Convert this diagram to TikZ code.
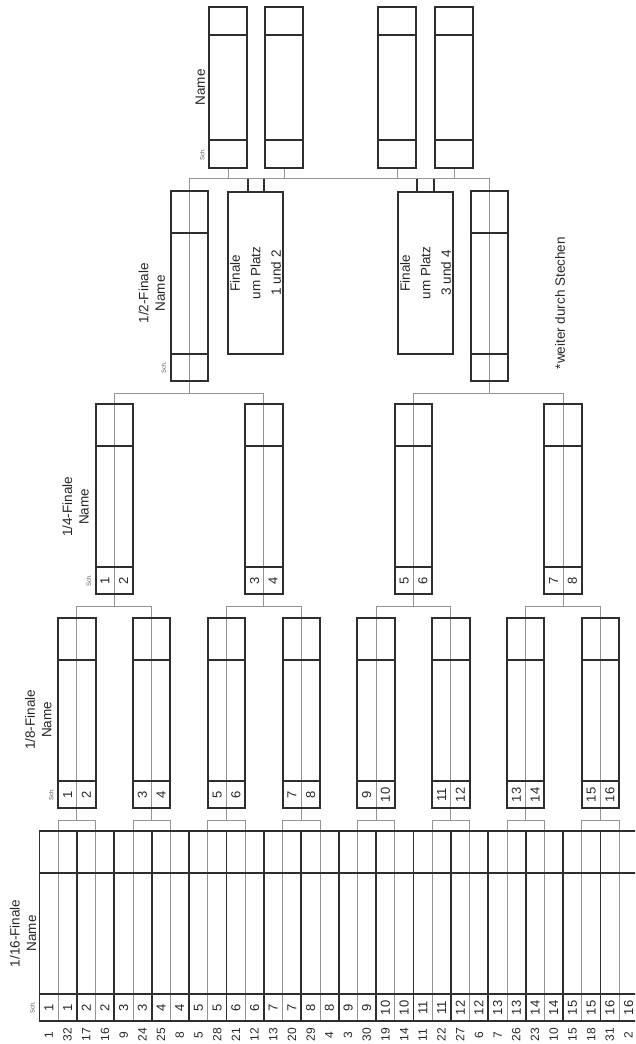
\documentclass[tikz,border=0pt]{standalone}
\usepackage{fontspec}
\setmainfont{Liberation Sans}
\usetikzlibrary{calc,backgrounds}
\colorlet{framegray}{black!82}
\colorlet{wiregray}{black!42}
\tikzset{
  slot/.style={draw=framegray, line width=1.9pt, minimum width=37.4pt,
    inner sep=0pt, anchor=north},
  roundbox/.style={slot, minimum height=190pt},
  winnerbox/.style={slot, minimum height=161pt},
  playoffbox/.style={slot, minimum width=55pt, minimum height=162pt},
  cellrule/.style={draw=framegray, line width=1.9pt},
  wire/.style={draw=wiregray, line width=0.9pt},
  cellnum/.style={font=\fontsize{13}{13}\selectfont, rotate=90, inner sep=0pt,
    text=black!85},
  seednum/.style={cellnum, font=\fontsize{12}{12}\selectfont},
  schtag/.style={font=\fontsize{6}{6}\selectfont, rotate=90, inner sep=0pt,
    text=black!65},
  roundhead/.style={font=\fontsize{13.5}{16.5}\selectfont, rotate=90,
    align=center, inner sep=0pt, text=black!85},
  playtext/.style={roundhead, font=\fontsize{13.5}{20.5}\selectfont},
}

\begin{document}
\begin{tikzpicture}[x=1pt,y=-1pt]
\useasboundingbox (0,0) rectangle (635,1044);
\clip (0,0) rectangle (635,1044);
% one box per pairing; the sheet is turned, rounds run upwards
\foreach \i in {1,...,16}
  \node[roundbox] (p\i) at ({39.5+(\i-0.5)*37.4},830) {};
\foreach \i in {1,...,8}
  \node[roundbox] (e\i) at ({39.5+(2*\i-1)*37.4},617) {};
\foreach \i in {1,...,4}
  \node[roundbox] (v\i) at ({39.5+(4*\i-2)*37.4},403) {};
\node[roundbox] (h1) at (189.5,190) {};
\node[roundbox] (h2) at (489.5,190) {};
\node[winnerbox] (w1) at (228,6) {};
\node[winnerbox] (w2) at (284,6) {};
\node[winnerbox] (w3) at (397,6) {};
\node[winnerbox] (w4) at (454,6) {};
\node[playoffbox] (f1) at (255.5,191) {};
\node[playoffbox] (f2) at (425.5,191) {};
% cells: Sch. strip, name strip, top strip
\foreach \kind/\cnt in {p/16,e/8,v/4,h/2}
  \foreach \i in {1,...,\cnt}{
    \draw[cellrule] ([yshift=-43pt]\kind\i.north west) -- ([yshift=-43pt]\kind\i.north east)
      ([yshift=28pt]\kind\i.south west) -- ([yshift=28pt]\kind\i.south east);
    \begin{scope}[on background layer]
      \draw[wire] (\kind\i.north) -- (\kind\i.south);
    \end{scope}}
\foreach \i in {1,...,4}
  \draw[cellrule] ([yshift=-29pt]w\i.north west) -- ([yshift=-29pt]w\i.north east)
    ([yshift=29pt]w\i.south west) -- ([yshift=29pt]w\i.south east);
\foreach \pa/\ch/\cnt in {e/p/8,v/e/4,h/v/2}
  \foreach \i in {1,...,\cnt}{
    \pgfmathtruncatemacro\lo{2*\i-1}
    \pgfmathtruncatemacro\hi{2*\i}
    \draw[wire] (\ch\lo.north) |- ([yshift=-11.5pt]\pa\i.south) -| (\ch\hi.north)
      (\pa\i.south) -- ([yshift=-11.5pt]\pa\i.south);}
\coordinate (bar) at ([yshift=11.5pt]h1.north);
\draw[wire] (h1.north) -- (bar) -| (h2.north);
\foreach \i in {1,...,4}
  \draw[wire] (w\i.south) -- (w\i.south |- bar);
\draw[cellrule] (f1.north -| w1.east) -- (bar -| w1.east)
  (f1.north -| w2.west) -- (bar -| w2.west)
  (f2.north -| w3.east) -- (bar -| w3.east)
  (f2.north -| w4.west) -- (bar -| w4.west);
% numbers
\foreach \s/\t [count=\i] in {1/32,17/16,9/24,25/8,5/28,21/12,13/20,29/4,
    3/30,19/14,11/22,27/6,7/26,23/10,15/18,31/2}{
  \node[cellnum] (pl\i) at ([xshift=-9.35pt,yshift=14pt]p\i.south) {\i};
  \node[cellnum] (pr\i) at ([xshift=9.35pt,yshift=14pt]p\i.south) {\i};
  \node[seednum] (sl\i) at ([xshift=-9.35pt,yshift=-13pt]p\i.south) {\s};
  \node[seednum] (sr\i) at ([xshift=9.35pt,yshift=-13pt]p\i.south) {\t};}
\foreach \pa/\cnt in {e/8,v/4}
  \foreach \i in {1,...,\cnt}{
    \pgfmathtruncatemacro\lo{2*\i-1}
    \pgfmathtruncatemacro\hi{2*\i}
    \node[cellnum] (\pa l\i) at ([xshift=-9.35pt,yshift=14pt]\pa\i.south) {\lo};
    \node[cellnum] (\pa r\i) at ([xshift=9.35pt,yshift=14pt]\pa\i.south) {\hi};}
% round titles
\node[roundhead] (t16) at ([xshift=-15.5pt,yshift=-7.5pt]p1.west) {1/16-Finale\\Name};
\node[roundhead] (t8) at ([xshift=-19pt,yshift=-7pt]e1.west) {1/8-Finale\\Name};
\node[roundhead] (t4) at ([xshift=-19pt,yshift=-8pt]v1.west) {1/4-Finale\\Name};
\node[roundhead] (t2) at ([xshift=-18pt,yshift=-7.5pt]h1.west) {1/2-Finale\\Name};
\node[roundhead] (t1) at ([xshift=-8pt]w1.west) {Name};
\node[schtag] (k16) at ([xshift=-6pt,yshift=14pt]p1.south west) {Sch.};
\node[schtag] (k8) at ([xshift=-6pt,yshift=14pt]e1.south west) {Sch.};
\node[schtag] (k4) at ([xshift=-6pt,yshift=14pt]v1.south west) {Sch.};
\node[schtag] (k2) at ([xshift=-6pt,yshift=14pt]h1.south west) {Sch.};
\node[schtag] (k1) at ([xshift=-6pt,yshift=14.5pt]w1.south west) {Sch.};
\node[playtext] (ft1) at (f1.center) {Finale\\um Platz\\1 und 2};
\node[playtext] (ft2) at (f2.center) {Finale\\um Platz\\3 und 4};
\node[roundhead] (note) at (560,303) {*weiter durch Stechen};
\end{tikzpicture}
\end{document}
